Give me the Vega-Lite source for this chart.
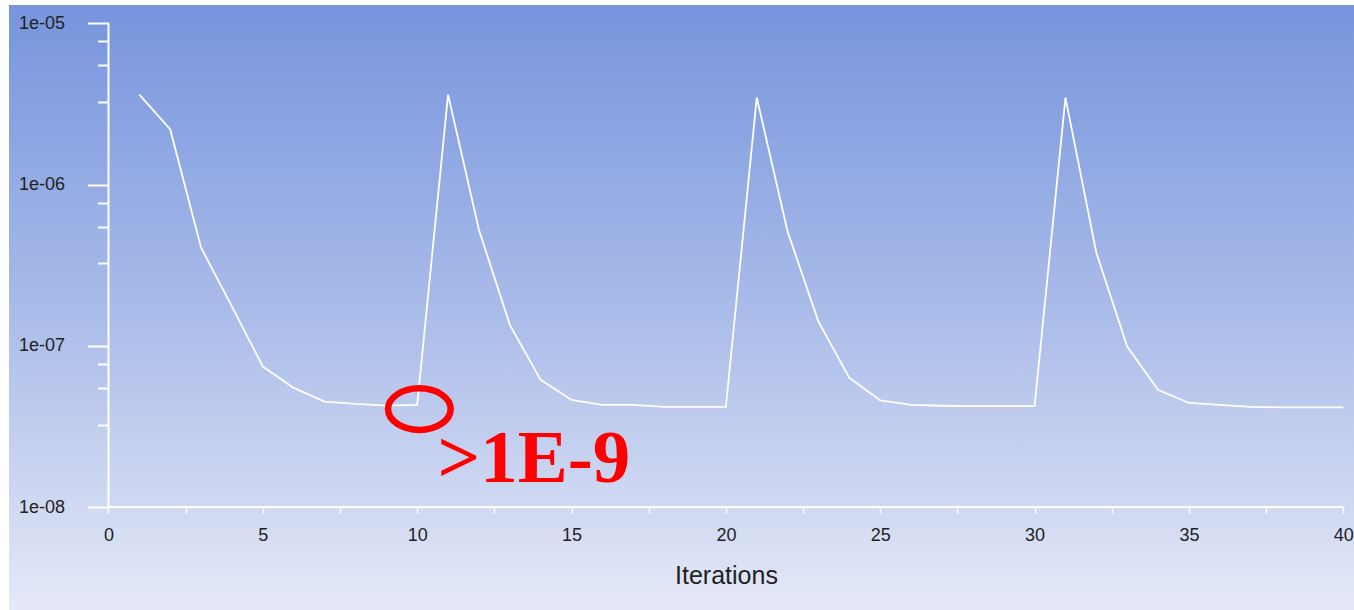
{
  "$schema": "https://vega.github.io/schema/vega-lite/v6.json",
  "width": 1345,
  "height": 605,
  "autosize": {"type": "none"},
  "padding": {"top": 5, "left": 9, "right": 0, "bottom": 0},
  "background": "white",
  "config": {
    "view": {
      "stroke": null,
      "fill": {
        "gradient": "linear",
        "x1": 0, "y1": 0, "x2": 0, "y2": 1,
        "stops": [
          {"offset": 0, "color": "#7795dd"},
          {"offset": 0.5, "color": "#a9bbe9"},
          {"offset": 1, "color": "#e5e9f7"}
        ]
      }
    }
  },
  "encoding": {
    "x": {
      "field": "it",
      "type": "quantitative",
      "scale": {"domain": [-3.223, 40.347], "nice": false, "zero": false},
      "axis": {
        "orient": "bottom",
        "offset": -103,
        "domain": false,
        "grid": false,
        "values": [0, 2.5, 5, 7.5, 10, 12.5, 15, 17.5, 20, 22.5, 25, 27.5, 30, 32.5, 35, 37.5, 40],
        "labelExpr": "datum.value % 5 == 0 ? '' + datum.value : ''",
        "labelOverlap": false,
        "labelFlush": false,
        "labelBound": false,
        "tickColor": "white",
        "tickWidth": 1.5,
        "tickSize": 6,
        "labelFont": "Liberation Sans",
        "labelFontSize": 18,
        "labelColor": "#222222",
        "labelPadding": 13,
        "title": "Iterations",
        "titleFont": "Liberation Sans",
        "titleFontSize": 25,
        "titleFontWeight": "normal",
        "titleColor": "#222222",
        "titlePadding": 19,
        "titleX": 717
      }
    },
    "y": {
      "field": "res",
      "type": "quantitative",
      "scale": {"type": "log", "domain": [2.296e-9, 1.3023e-5], "nice": false, "zero": false},
      "axis": {
        "orient": "left",
        "offset": -99.5,
        "domain": false,
        "grid": false,
        "values": [1e-8, 3.25e-8, 5.5e-8, 7.75e-8, 1e-7, 3.25e-7, 5.5e-7, 7.75e-7, 1e-6, 3.25e-6, 5.5e-6, 7.75e-6, 1e-5],
        "labelExpr": "abs(log(datum.value)/LN10 - round(log(datum.value)/LN10)) < 0.01 ? '1e-0' + (-round(log(datum.value)/LN10)) : ''",
        "labelOverlap": false,
        "labelFlush": false,
        "labelBound": false,
        "tickColor": "white",
        "tickWidth": 2,
        "tickSize": {"condition": {"test": "abs(log(datum.value)/LN10 - round(log(datum.value)/LN10)) < 0.01", "value": 21}, "value": 11},
        "labelFont": "Liberation Sans",
        "labelFontSize": 18,
        "labelColor": "#222222",
        "labelPadding": 23,
        "title": null
      }
    }
  },
  "layer": [
    {
      "data": {"values": [
        {"it": 0, "it2": 40, "res": 1e-8, "res2": 1e-8},
        {"it": 0, "it2": 0, "res": 1e-8, "res2": 1e-5}
      ]},
      "mark": {"type": "rule", "color": "white", "strokeWidth": 2},
      "encoding": {
        "x2": {"field": "it2"},
        "y2": {"field": "res2"}
      }
    },
    {
      "data": {"values": [
        {"it": 1, "res": 3.62e-6}, {"it": 2, "res": 2.20e-6}, {"it": 3, "res": 4.06e-7}, {"it": 4, "res": 1.75e-7},
        {"it": 5, "res": 7.44e-8}, {"it": 6, "res": 5.48e-8}, {"it": 7, "res": 4.51e-8}, {"it": 8, "res": 4.36e-8},
        {"it": 9, "res": 4.26e-8}, {"it": 10, "res": 4.30e-8}, {"it": 11, "res": 3.62e-6}, {"it": 12, "res": 5.25e-7},
        {"it": 13, "res": 1.35e-7}, {"it": 14, "res": 6.15e-8}, {"it": 15, "res": 4.62e-8}, {"it": 16, "res": 4.30e-8},
        {"it": 17, "res": 4.30e-8}, {"it": 18, "res": 4.18e-8}, {"it": 19, "res": 4.18e-8}, {"it": 20, "res": 4.18e-8},
        {"it": 21, "res": 3.47e-6}, {"it": 22, "res": 5.11e-7}, {"it": 23, "res": 1.41e-7}, {"it": 24, "res": 6.33e-8},
        {"it": 25, "res": 4.58e-8}, {"it": 26, "res": 4.30e-8}, {"it": 27, "res": 4.25e-8}, {"it": 28, "res": 4.22e-8},
        {"it": 29, "res": 4.22e-8}, {"it": 30, "res": 4.22e-8}, {"it": 31, "res": 3.47e-6}, {"it": 32, "res": 3.78e-7},
        {"it": 33, "res": 9.9e-8}, {"it": 34, "res": 5.33e-8}, {"it": 35, "res": 4.42e-8}, {"it": 36, "res": 4.30e-8},
        {"it": 37, "res": 4.18e-8}, {"it": 38, "res": 4.15e-8}, {"it": 39, "res": 4.15e-8}, {"it": 40, "res": 4.15e-8}
      ]},
      "mark": {"type": "line", "color": "white", "strokeWidth": 1.8}
    },
    {
      "data": {"values": [{"it": 10.07, "res": 4.05e-8}]},
      "mark": {
        "type": "point",
        "shape": "M -1 0 A 1 0.665 0 1 0 1 0 A 1 0.665 0 1 0 -1 0 Z",
        "size": 3920,
        "filled": false,
        "stroke": "#ff0000",
        "strokeWidth": 6.5,
        "opacity": 1
      }
    },
    {
      "data": {"values": [{"it": 13.78, "res": 1.432e-8, "label": ">1E-9"}]},
      "mark": {
        "type": "text",
        "font": "Liberation Serif",
        "fontWeight": "bold",
        "fontSize": 75,
        "color": "#ff0000",
        "align": "center",
        "baseline": "alphabetic"
      },
      "encoding": {"text": {"field": "label"}}
    }
  ]
}
